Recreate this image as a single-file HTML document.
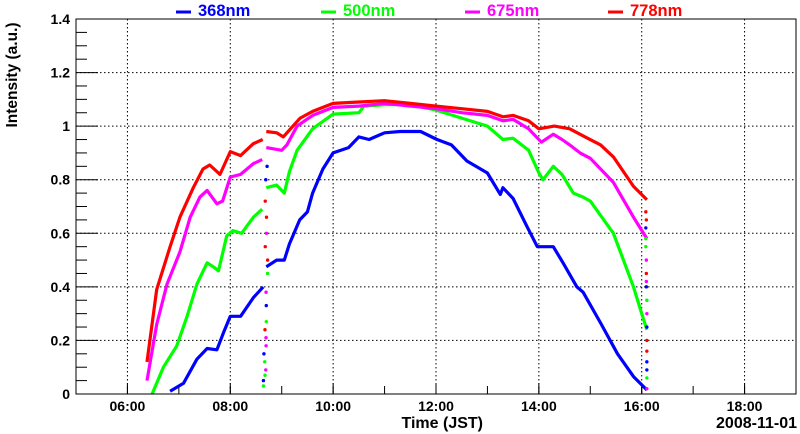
<!DOCTYPE html>
<html><head><meta charset="utf-8"><style>
body{margin:0;background:#fff;}
svg{display:block;font-family:"Liberation Sans",sans-serif;font-weight:bold;}
</style></head><body>
<svg id="chart" width="800" height="434" viewBox="0 0 800 434" xmlns="http://www.w3.org/2000/svg"></svg>
<script>
// ---- data ----
const yTicks = [0, 0.2, 0.4, 0.6, 0.8, 1, 1.2, 1.4];
const yTickLabels = ["0", "0.2", "0.4", "0.6", "0.8", "1", "1.2", "1.4"];
const xTicks = [6, 8, 10, 12, 14, 16, 18];
const xTickLabels = ["06:00", "08:00", "10:00", "12:00", "14:00", "16:00", "18:00"];
const seriesNames = ["368nm", "500nm", "675nm", "778nm"];
const seriesColors = ["#0000ff", "#00ff00", "#ff00ff", "#ff0000"];

const blueT = [6.83,7.09,7.35,7.55,7.74,7.87,8.0,8.2,8.45,8.64, 8.7,8.9,9.05,9.15,9.35,9.5,9.6,9.8,10.0,10.3,10.5,10.7,11.0,11.3,11.7,12.02,12.3,12.6,13.0,13.25,13.3,13.5,13.77,13.97,14.16,14.28,14.47,14.74,14.86,15.2,15.53,15.84,16.1];
const blueV = [0.01,0.04,0.13,0.17,0.165,0.23,0.29,0.29,0.36,0.40, 0.475,0.5,0.5,0.56,0.65,0.68,0.75,0.84,0.9,0.92,0.96,0.95,0.975,0.98,0.98,0.95,0.93,0.87,0.825,0.745,0.77,0.73,0.625,0.55,0.55,0.55,0.49,0.40,0.38,0.265,0.15,0.065,0.015];
const greenT = [6.48,6.7,6.96,7.16,7.35,7.55,7.67,7.77,7.93,8.05,8.22,8.45,8.62, 8.7,8.9,9.05,9.15,9.3,9.6,10.0,10.5,10.6,11.0,11.5,12.0,12.5,13.0,13.3,13.5,13.8,14.0,14.08,14.28,14.45,14.67,14.86,15.0,15.45,15.84,16.0,16.1];
const greenV = [0.0,0.10,0.18,0.29,0.41,0.49,0.475,0.46,0.59,0.61,0.6,0.66,0.69, 0.77,0.78,0.75,0.83,0.91,0.99,1.045,1.05,1.075,1.08,1.08,1.06,1.03,1.0,0.95,0.955,0.91,0.825,0.8,0.85,0.82,0.75,0.735,0.72,0.6,0.40,0.30,0.24];
const magentaT = [6.38,6.57,6.77,7.02,7.22,7.41,7.55,7.74,7.85,8.0,8.2,8.45,8.62, 8.7,9.0,9.1,9.3,9.6,10.0,10.5,11.0,12.0,12.5,13.0,13.3,13.5,13.8,14.05,14.28,14.45,14.6,14.8,15.0,15.45,15.84,16.1];
const magentaV = [0.05,0.26,0.41,0.53,0.66,0.735,0.76,0.71,0.72,0.81,0.82,0.86,0.875, 0.92,0.91,0.93,1.0,1.04,1.07,1.075,1.085,1.065,1.05,1.04,1.02,1.025,0.99,0.94,0.97,0.95,0.93,0.9,0.88,0.79,0.66,0.58];
const redT = [6.38,6.57,6.83,7.02,7.28,7.47,7.6,7.8,8.0,8.2,8.45,8.63, 8.7,8.9,9.03,9.17,9.36,9.6,10.0,10.5,11.0,11.5,12.0,12.5,13.0,13.3,13.5,13.8,14.0,14.3,14.6,14.9,15.2,15.45,15.84,16.1];
const redV = [0.12,0.39,0.55,0.66,0.77,0.84,0.855,0.82,0.905,0.89,0.935,0.95, 0.98,0.975,0.96,0.99,1.03,1.055,1.085,1.09,1.095,1.085,1.075,1.065,1.055,1.035,1.04,1.02,0.99,1.0,0.99,0.96,0.93,0.885,0.775,0.725];

// dropout dots (times and values)
const dropT = [8.66,8.67,8.68,8.69,8.7,8.71,8.72,8.68,8.7,8.66,8.69,8.71,8.67,8.7,8.68,8.72,8.69,8.66,8.71,8.68];
const dropV = [0.05,0.12,0.18,0.24,0.33,0.45,0.6,0.72,0.85,0.03,0.09,0.5,0.15,0.27,0.38,0.66,0.8,0.07,0.21,0.55];
const endT = [16.08,16.08,16.08,16.09,16.09,16.09,16.1,16.1,16.1,16.1,16.1,16.1,16.09,16.1,16.08,16.09,16.1,16.1];
const endV = [0.68,0.62,0.55,0.5,0.45,0.4,0.35,0.3,0.2,0.12,0.06,0.02,0.65,0.25,0.58,0.42,0.16,0.09];

// ---- layout ----
const L=76,R=796,T=19,B=394;
const X0=5,X1=19,Y0=0,Y1=1.4;
const sx=h=>L+(h-X0)/(X1-X0)*(R-L);
const sy=v=>B-(v-Y0)/(Y1-Y0)*(B-T);
const svg=document.getElementById('chart');
const NS='http://www.w3.org/2000/svg';
function mk(tag,attrs,parent){const e=document.createElementNS(NS,tag);for(const k in attrs)e.setAttribute(k,attrs[k]);(parent||svg).appendChild(e);return e;}

// grid
const grid=mk('g',{});


xTicks.forEach(h=>mk('line',{x1:sx(h),x2:sx(h),y1:T,y2:B,stroke:'#000','stroke-width':1,'stroke-dasharray':'1.5,2.5'},grid));
yTicks.forEach(v=>{if(v>0&&v<1.4)mk('line',{x1:L,x2:R,y1:sy(v),y2:sy(v),stroke:'#000','stroke-width':1,'stroke-dasharray':'1.5,2.5'},grid);});

// ticks
const ticks=mk('g',{stroke:'#000','stroke-width':1});


for(let i=0;i<=28;i++){const v=i*0.05;const len=(i%4===0)?22:11;mk('line',{x1:L,x2:L+len,y1:sy(v),y2:sy(v)},ticks);}
for(let h=5.5;h<=19;h+=0.5){const isMaj=Math.abs(h-Math.round(h))<1e-6;if(isMaj)mk('line',{x1:sx(h),x2:sx(h),y1:B,y2:B-8},ticks);}
for(let h=6;h<=18;h+=2){mk('line',{x1:sx(h),x2:sx(h),y1:B,y2:B-11},ticks);}

// series
const allT=[blueT,greenT,magentaT,redT], allV=[blueV,greenV,magentaV,redV];
allT.forEach((ts,si)=>{
  const vs=allV[si];
  const split=ts.findIndex(t=>t>=8.7-1e-6);
  const segs=[[0,split],[split,ts.length]];
  segs.forEach((sg,k)=>{
    const pts=[];for(let i=sg[0];i<sg[1];i++)pts.push(sx(ts[i]).toFixed(1)+','+sy(vs[i]).toFixed(1));
    const p=mk('polyline',{points:pts.join(' '),fill:'none',stroke:seriesColors[si],'stroke-width':3.2,'stroke-linejoin':'round'});
    
    
  });
});
// dropout dots
const dots=mk('g',{});


dropT.forEach((t,i)=>mk('circle',{cx:sx(t)+((i%3)-1)*0.8,cy:sy(dropV[i]),r:1.7,fill:seriesColors[i%4]},dots));
endT.forEach((t,i)=>mk('circle',{cx:sx(t),cy:sy(endV[i]),r:1.7,fill:seriesColors[(i+3)%4]},dots));

// frame
const fr=mk('rect',{x:L,y:T,width:R-L,height:B-T,fill:'none',stroke:'#000','stroke-width':1});



// tick labels
yTicks.forEach((v,i)=>{const t=mk('text',{x:70,y:sy(v)+5,'text-anchor':'end','font-size':14});t.textContent=yTickLabels[i];
});
xTicks.forEach((h,i)=>{const t=mk('text',{x:sx(h),y:411,'text-anchor':'middle','font-size':14});t.textContent=xTickLabels[i];
});

// legend
const legX=[176,321,465,608];
seriesNames.forEach((n,i)=>{
  const g=mk('g',{});
  
  
  mk('line',{x1:legX[i],x2:legX[i]+15,y1:12,y2:12,stroke:seriesColors[i],'stroke-width':3},g);
  const t=mk('text',{x:legX[i]+22,y:16,'font-size':16.5,fill:seriesColors[i]},g);t.textContent=n;
});
</script>
<svg style="position:absolute;left:0;top:0" width="800" height="434">
<text transform="translate(17,75) rotate(-90)" text-anchor="middle" font-size="15.5" font-weight="bold" font-family="Liberation Sans, sans-serif">Intensity (a.u.)</text>
<text x="483" y="428" text-anchor="end" font-size="16" font-weight="bold" font-family="Liberation Sans, sans-serif">Time (JST)</text>
<text x="797" y="428" text-anchor="end" font-size="16" font-weight="bold" font-family="Liberation Sans, sans-serif">2008-11-01</text>
</svg>
</body></html>
